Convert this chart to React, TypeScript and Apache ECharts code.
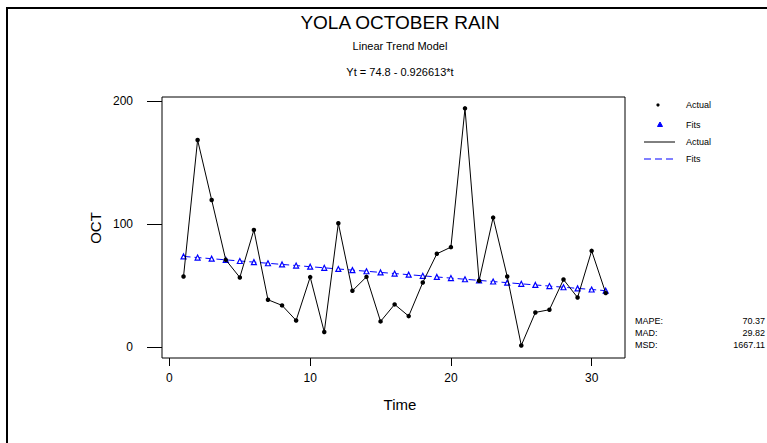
import React, { useEffect, useRef } from "react";
import * as echarts from "echarts";

const timeValues = [1,2,3,4,5,6,7,8,9,10,11,12,13,14,15,16,17,18,19,20,21,22,23,24,25,26,27,28,29,30,31];
const actualValues = [57.6,168.4,119.7,71.1,56.8,95.4,38.7,34.1,21.9,57.1,12.5,100.8,46.0,57.3,21.1,34.9,25.4,52.7,76.0,81.4,194.1,54.1,105.4,57.6,1.6,28.4,30.6,55.1,40.5,78.4,44.1];
const fitValues = [73.87,72.95,72.02,71.09,70.17,69.24,68.31,67.39,66.46,65.53,64.61,63.68,62.75,61.83,60.90,59.97,59.05,58.12,57.19,56.27,55.34,54.41,53.49,52.56,51.63,50.71,49.78,48.85,47.93,47.00,46.07];
const xTicks = [0, 10, 20, 30];
const yTicks = [0, 100, 200];
const statNames = ["MAPE:", "MAD:", "MSD:"];
const statValues = ["70.37", "29.82", "1667.11"];

const FONT = "Liberation Sans, Arial, sans-serif";

export default function App() {
  const ref = useRef<HTMLDivElement>(null);
  useEffect(() => {
    if (!ref.current) return;
    const chart = echarts.init(ref.current, null, { renderer: "svg" });
    const actual = timeValues.map((t, i) => [t, actualValues[i]]);
    const fits = timeValues.map((t, i) => [t, fitValues[i]]);
    const txt = (x: number, y: number, text: string, size: number, align = "left") => ({
      type: "text",
      x,
      y,
      style: { text, fontSize: size, fontFamily: FONT, fill: "#000", align, verticalAlign: "middle" },
    });
    const graphic: any[] = [
      { type: "rect", shape: { x: 7, y: 8, width: 900, height: 600 }, style: { fill: "none", stroke: "#000", lineWidth: 2 } },
      txt(400, 22, "YOLA OCTOBER RAIN", 19, "center"),
      txt(400, 46, "Linear Trend Model", 11, "center"),
      txt(400, 72, "Yt = 74.8 - 0.926613*t", 11, "center"),
      txt(400, 404, "Time", 15, "center"),
      { type: "text", x: 95, y: 228, rotation: Math.PI / 2, style: { text: "OCT", fontSize: 15, fontFamily: FONT, fill: "#000", align: "center", verticalAlign: "middle" } },
      { type: "circle", shape: { cx: 658, cy: 105, r: 1.6 }, style: { fill: "#000" } },
      txt(686, 105, "Actual", 9),
      { type: "polygon", shape: { points: [[660, 122], [657.5, 126.5], [662.5, 126.5]] }, style: { fill: "#0000ff", stroke: "#0000ff", lineWidth: 1 } },
      txt(686, 125, "Fits", 9),
      { type: "line", shape: { x1: 644, y1: 142, x2: 675, y2: 142 }, style: { stroke: "#000", lineWidth: 1 } },
      txt(686, 142, "Actual", 9),
      { type: "line", shape: { x1: 644, y1: 159, x2: 675, y2: 159 }, style: { stroke: "#0000ff", lineWidth: 1, lineDash: [7, 4] } },
      txt(686, 159, "Fits", 9),
    ];
    statNames.forEach((n, i) => {
      graphic.push(txt(635, 321 + i * 12, n, 9));
      graphic.push(txt(765, 321 + i * 12, statValues[i], 9, "right"));
    });
    chart.setOption({
      animation: false,
      backgroundColor: "#fff",
      textStyle: { fontFamily: FONT },
      grid: { left: 162, top: 97, width: 463, height: 261, show: true, borderColor: "#000", borderWidth: 1, backgroundColor: "transparent" },
      xAxis: {
        type: "value",
        min: -0.53,
        max: 32.37,
        axisLine: { show: false, onZero: false },
        splitLine: { show: false },
        axisTick: { show: true, inside: false, length: 8, lineStyle: { color: "#000" }, customValues: xTicks },
        axisLabel: { show: true, color: "#000", fontSize: 12, margin: 14, fontFamily: FONT, customValues: xTicks },
      },
      yAxis: {
        type: "value",
        min: -8.6,
        max: 203.3,
        axisLine: { show: false, onZero: false },
        splitLine: { show: false },
        axisTick: { show: true, inside: false, length: 15, lineStyle: { color: "#000" }, customValues: yTicks },
        axisLabel: { show: true, color: "#000", fontSize: 12, margin: 29, fontFamily: FONT, customValues: yTicks },
      },
      series: [
        {
          name: "Actual",
          type: "line",
          data: actual,
          showSymbol: true,
          symbol: "circle",
          symbolSize: 4.5,
          lineStyle: { color: "#000", width: 1 },
          itemStyle: { color: "#000" },
          z: 3,
        },
        {
          name: "Fits",
          type: "line",
          data: fits,
          showSymbol: true,
          symbol: "triangle",
          symbolSize: 5,
          lineStyle: { color: "#0000ff", width: 1, type: [7, 4] },
          itemStyle: { color: "#fff", borderColor: "#0000ff", borderWidth: 1.2 },
          z: 2,
        },
      ],
      graphic,
    });
    return () => chart.dispose();
  }, []);
  return <div ref={ref} style={{ position: "absolute", left: 0, top: 0, width: 767, height: 443, background: "#fff" }} />;
}
